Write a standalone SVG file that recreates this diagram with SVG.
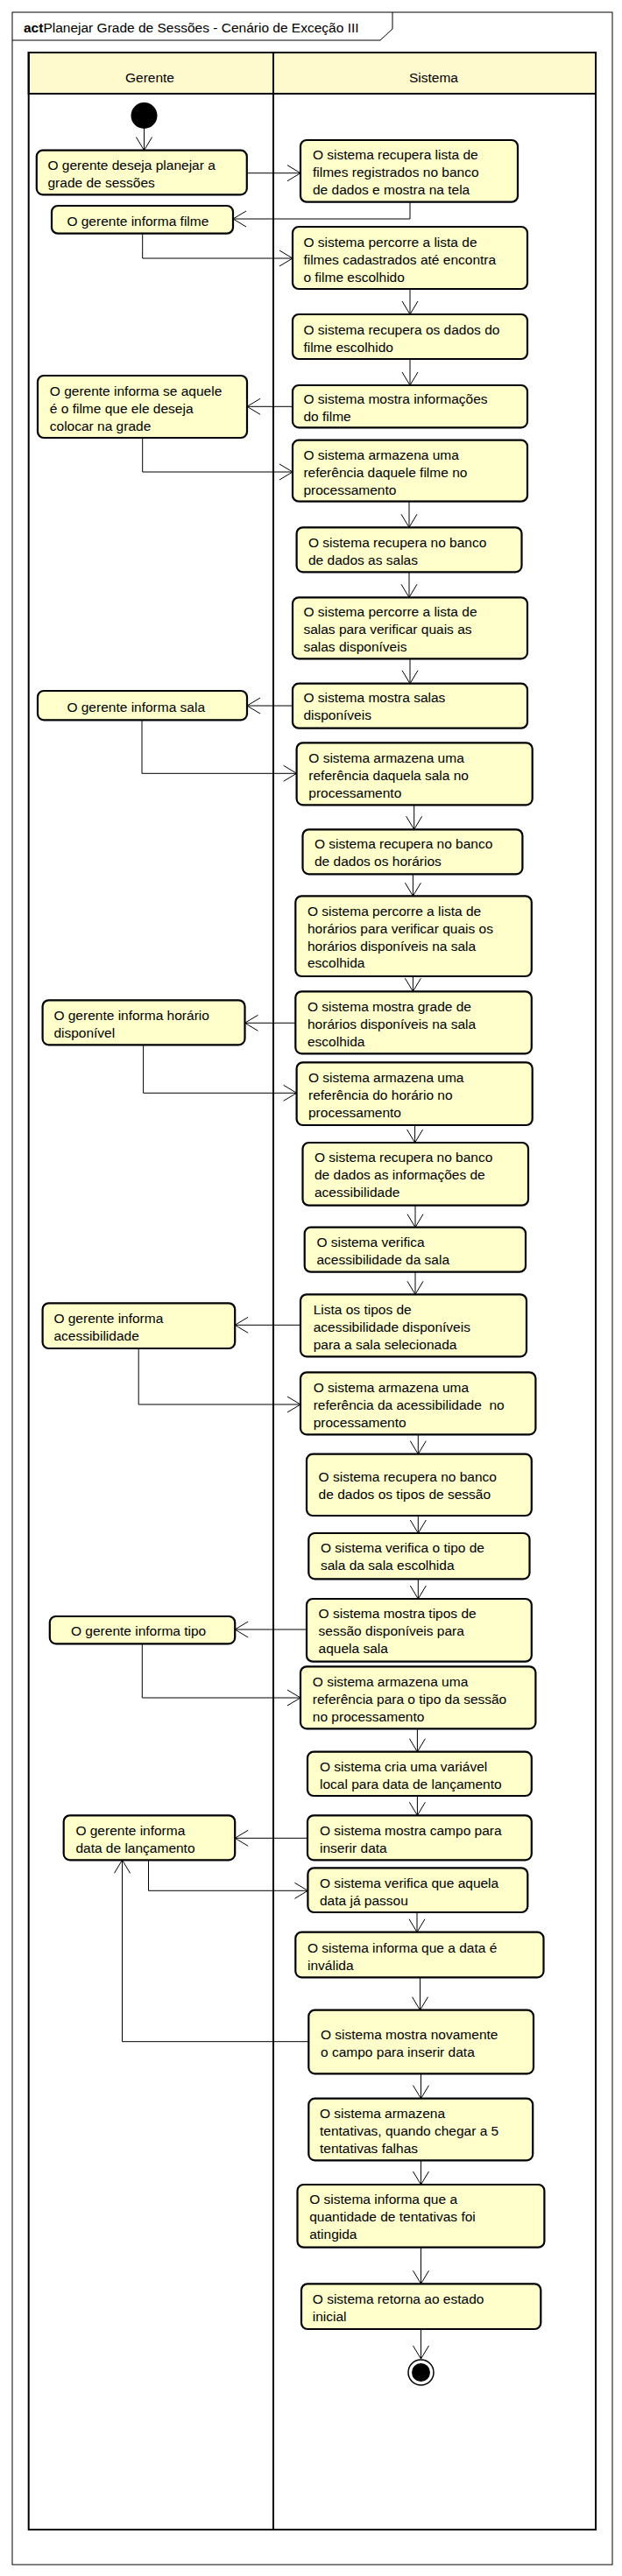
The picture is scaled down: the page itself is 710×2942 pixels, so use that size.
<svg xmlns="http://www.w3.org/2000/svg" width="710" height="2942" viewBox="0 0 710 2942">
<style>
text{font-family:"Liberation Sans",Arial,sans-serif;font-size:15.5px;fill:#000}
.n rect{fill:#FFFFCC;stroke:#000;stroke-width:2.2}
.lane{fill:none;stroke:#000;stroke-width:2}
.hdr{fill:#FFFACD;stroke:#000;stroke-width:2}
#connectors path{fill:none;stroke:#000;stroke-width:1;marker-end:url(#arr)}
</style>
<defs>
<marker id="arr" markerUnits="userSpaceOnUse" markerWidth="18" markerHeight="20" refX="15" refY="9" orient="auto" overflow="visible">
<path d="M0,0 L15,9 L0,18" fill="none" stroke="#000" stroke-width="1"/>
</marker>
</defs>
<rect x="0" y="0" width="710" height="2942" fill="#fff"/>
<g id="frame">
<rect x="14" y="14" width="685" height="2915" fill="none" stroke="#000" stroke-width="1"/>
<path d="M14,46 L434,46 L448,33 L448,14" fill="none" stroke="#000" stroke-width="1"/>
<text x="27" y="37"><tspan font-weight="bold">act</tspan>Planejar Grade de Sessões - Cenário de Exceção III</text>
</g>
<g id="lanes">
<rect class="hdr" x="32.7" y="60" width="647.3" height="47"/>
<rect class="lane" x="32.7" y="60" width="647.3" height="2829"/>
<line x1="312" y1="60" x2="312" y2="2889" stroke="#000" stroke-width="2"/>
<text x="171" y="94" text-anchor="middle">Gerente</text>
<text x="495" y="94" text-anchor="middle">Sistema</text>
</g>
<g id="start"><circle cx="164.5" cy="132" r="15" fill="#000"/></g>
<g id="end"><circle cx="480.5" cy="2709.5" r="14.5" fill="#fff" stroke="#000" stroke-width="1.5"/><circle cx="480.5" cy="2709.5" r="10.5" fill="#000"/></g>

<g id="n1" class="n"><rect x="41.8" y="171.7" width="240" height="50.6" rx="7"/><text x="54.5" y="193.8">O gerente deseja planejar a</text><text x="54.5" y="213.8">grade de sessões</text></g>
<g id="n2" class="n"><rect x="343" y="160" width="248" height="70.7" rx="7"/><text x="357" y="182">O sistema recupera lista de</text><text x="357" y="202">filmes registrados no banco</text><text x="357" y="222">de dados e mostra na tela</text></g>
<g id="n3" class="n"><rect x="59" y="235" width="207" height="31.7" rx="7"/><text x="76.4" y="257.5">O gerente informa filme</text></g>
<g id="n4" class="n"><rect x="334" y="259" width="268" height="71" rx="7"/><text x="346.4" y="281.5">O sistema percorre a lista de</text><text x="346.4" y="301.5">filmes cadastrados até encontra</text><text x="346.4" y="321.5">o filme escolhido</text></g>
<g id="n5" class="n"><rect x="334" y="359" width="268" height="51" rx="7"/><text x="346.4" y="381.5">O sistema recupera os dados do</text><text x="346.4" y="401.5">filme escolhido</text></g>
<g id="n6" class="n"><rect x="334" y="440" width="268" height="48.3" rx="7"/><text x="346.4" y="460.5">O sistema mostra informações</text><text x="346.4" y="480.5">do filme</text></g>
<g id="n7" class="n"><rect x="43" y="429" width="239" height="71" rx="7"/><text x="56.8" y="451.5">O gerente informa se aquele</text><text x="56.8" y="471.5">é o filme que ele deseja</text><text x="56.8" y="491.5">colocar na grade</text></g>
<g id="n8" class="n"><rect x="334" y="502.7" width="268" height="70" rx="7"/><text x="346.4" y="524.8">O sistema armazena uma</text><text x="346.4" y="544.8">referência daquele filme no</text><text x="346.4" y="564.8">processamento</text></g>
<g id="n9" class="n"><rect x="338.6" y="602.3" width="256.9" height="51" rx="7"/><text x="352" y="624.5">O sistema recupera no banco</text><text x="352" y="644.5">de dados as salas</text></g>
<g id="n10" class="n"><rect x="334" y="682.3" width="268" height="70" rx="7"/><text x="346.4" y="703.5">O sistema percorre a lista de</text><text x="346.4" y="723.5">salas para verificar quais as</text><text x="346.4" y="743.5">salas disponíveis</text></g>
<g id="n11" class="n"><rect x="334" y="780.7" width="268" height="51" rx="7"/><text x="346.4" y="802">O sistema mostra salas</text><text x="346.4" y="822">disponíveis</text></g>
<g id="n12" class="n"><rect x="43" y="789" width="239" height="33.3" rx="7"/><text x="76.4" y="812.8">O gerente informa sala</text></g>
<g id="n13" class="n"><rect x="338.6" y="848.3" width="269.1" height="71" rx="7"/><text x="352.3" y="870.5">O sistema armazena uma</text><text x="352.3" y="890.5">referência daquela sala no</text><text x="352.3" y="910.5">processamento</text></g>
<g id="n14" class="n"><rect x="345.5" y="947.3" width="250.9" height="51" rx="7"/><text x="359" y="969">O sistema recupera no banco</text><text x="359" y="989">de dados os horários</text></g>
<g id="n15" class="n"><rect x="337.3" y="1023.3" width="269.5" height="91.7" rx="7"/><text x="351" y="1045.5">O sistema percorre a lista de</text><text x="351" y="1065.5">horários para verificar quais os</text><text x="351" y="1085.5">horários disponíveis na sala</text><text x="351" y="1105">escolhida</text></g>
<g id="n16" class="n"><rect x="337.3" y="1132.3" width="269.5" height="71" rx="7"/><text x="351" y="1154.8">O sistema mostra grade de</text><text x="351" y="1174.8">horários disponíveis na sala</text><text x="351" y="1194.8">escolhida</text></g>
<g id="n17" class="n"><rect x="48.6" y="1142.3" width="230.9" height="51" rx="7"/><text x="61.4" y="1164.5">O gerente informa horário</text><text x="61.4" y="1184.5">disponível</text></g>
<g id="n18" class="n"><rect x="338.6" y="1213.3" width="269.1" height="71.7" rx="7"/><text x="352" y="1235.5">O sistema armazena uma</text><text x="352" y="1255.5">referência do horário no</text><text x="352" y="1275.5">processamento</text></g>
<g id="n19" class="n"><rect x="345.5" y="1305" width="257.5" height="71.7" rx="7"/><text x="359" y="1327">O sistema recupera no banco</text><text x="359" y="1347">de dados as informações de</text><text x="359" y="1367">acessibilidade</text></g>
<g id="n20" class="n"><rect x="347.7" y="1401.7" width="252.3" height="51" rx="7"/><text x="361.4" y="1423.8">O sistema verifica</text><text x="361.4" y="1443.8">acessibilidade da sala</text></g>
<g id="n21" class="n"><rect x="343" y="1478.3" width="258" height="71" rx="7"/><text x="357.7" y="1500.5">Lista os tipos de</text><text x="357.7" y="1520.5">acessibilidade disponíveis</text><text x="357.7" y="1540.5">para a sala selecionada</text></g>
<g id="n22" class="n"><rect x="48.6" y="1488.3" width="219.6" height="51.7" rx="7"/><text x="61.4" y="1510.5">O gerente informa</text><text x="61.4" y="1530.5">acessibilidade</text></g>
<g id="n23" class="n"><rect x="343" y="1567.3" width="268.4" height="71" rx="7"/><text x="357.7" y="1589.5">O sistema armazena uma</text><text x="357.7" y="1609.5" xml:space="preserve">referência da acessibilidade  no</text><text x="357.7" y="1629.5">processamento</text></g>
<g id="n24" class="n"><rect x="350" y="1660.7" width="256.8" height="70.3" rx="7"/><text x="363.6" y="1692.2">O sistema recupera no banco</text><text x="363.6" y="1712.2">de dados os tipos de sessão</text></g>
<g id="n25" class="n"><rect x="352.3" y="1751" width="252.2" height="52.3" rx="7"/><text x="366" y="1773.2">O sistema verifica o tipo de</text><text x="366" y="1793.2">sala da sala escolhida</text></g>
<g id="n26" class="n"><rect x="350" y="1826" width="256.8" height="71.7" rx="7"/><text x="363.6" y="1848.2">O sistema mostra tipos de</text><text x="363.6" y="1868.2">sessão disponíveis para</text><text x="363.6" y="1888.2">aquela sala</text></g>
<g id="n27" class="n"><rect x="56.8" y="1846" width="211.4" height="31.3" rx="7"/><text x="81" y="1867.5">O gerente informa tipo</text></g>
<g id="n28" class="n"><rect x="343" y="1903.3" width="268.4" height="71" rx="7"/><text x="356.8" y="1925.5">O sistema armazena uma</text><text x="356.8" y="1945.5">referência para o tipo da sessão</text><text x="356.8" y="1965.5">no processamento</text></g>
<g id="n29" class="n"><rect x="351" y="2000.7" width="255.8" height="50.3" rx="7"/><text x="365" y="2022.8">O sistema cria uma variável</text><text x="365" y="2042.8">local para data de lançamento</text></g>
<g id="n30" class="n"><rect x="351" y="2073.3" width="255.8" height="51" rx="7"/><text x="365" y="2095.5">O sistema mostra campo para</text><text x="365" y="2115.5">inserir data</text></g>
<g id="n31" class="n"><rect x="72.7" y="2073.3" width="195.5" height="51" rx="7"/><text x="86.4" y="2095.5">O gerente informa</text><text x="86.4" y="2115.5">data de lançamento</text></g>
<g id="n32" class="n"><rect x="351.4" y="2133.3" width="250.9" height="50.7" rx="7"/><text x="365" y="2155.5">O sistema verifica que aquela</text><text x="365" y="2175.5">data já passou</text></g>
<g id="n33" class="n"><rect x="337.3" y="2206.7" width="283.2" height="51.6" rx="7"/><text x="351" y="2229.5">O sistema informa que a data é</text><text x="351" y="2249.5">inválida</text></g>
<g id="n34" class="n"><rect x="352.3" y="2295.7" width="256.7" height="72.6" rx="7"/><text x="366" y="2328.8">O sistema mostra novamente</text><text x="366" y="2348.8">o campo para inserir data</text></g>
<g id="n35" class="n"><rect x="352.3" y="2396.7" width="255.9" height="70.6" rx="7"/><text x="365" y="2418.8">O sistema armazena</text><text x="365" y="2438.8">tentativas, quando chegar a 5</text><text x="365" y="2458.8">tentativas falhas</text></g>
<g id="n36" class="n"><rect x="339.5" y="2495" width="281.9" height="71.7" rx="7"/><text x="353.2" y="2517.2">O sistema informa que a</text><text x="353.2" y="2537.2">quantidade de tentativas foi</text><text x="353.2" y="2557.2">atingida</text></g>
<g id="n37" class="n"><rect x="344" y="2608.3" width="273.3" height="51.7" rx="7"/><text x="356.8" y="2630.5">O sistema retorna ao estado</text><text x="356.8" y="2650.5">inicial</text></g>

<g id="connectors">
<path d="M164.5,147 L164.5,171.7"/>
<path d="M281.8,197.7 L343,197.7"/>
<path d="M468,230.7 L468,250 L266,250"/>
<path d="M162.7,266.7 L162.7,295 L334,295"/>
<path d="M468,330 L468,359"/>
<path d="M468,410 L468,440"/>
<path d="M334,464.3 L282,464.3"/>
<path d="M162.7,500 L162.7,539 L334,539"/>
<path d="M467,572.7 L467,602.3"/>
<path d="M467,653.3 L467,682.3"/>
<path d="M468,752.3 L468,780.7"/>
<path d="M334,806 L282,806"/>
<path d="M162,822.3 L162,883.3 L338.6,883.3"/>
<path d="M472.7,919.3 L472.7,947.3"/>
<path d="M471.4,998.3 L471.4,1023.3"/>
<path d="M471.4,1115 L471.4,1132.3"/>
<path d="M337.3,1168.3 L279.5,1168.3"/>
<path d="M163.6,1193.3 L163.6,1248.3 L338.6,1248.3"/>
<path d="M473.6,1285 L473.6,1305"/>
<path d="M474,1376.7 L474,1401.7"/>
<path d="M474,1452.7 L474,1478.3"/>
<path d="M343,1513.3 L268.2,1513.3"/>
<path d="M158.2,1540 L158.2,1604 L343,1604"/>
<path d="M477.3,1638.3 L477.3,1660.7"/>
<path d="M477.3,1731 L477.3,1751"/>
<path d="M477.3,1803.3 L477.3,1826"/>
<path d="M350,1861 L268.2,1861"/>
<path d="M162.3,1877.3 L162.3,1939 L343,1939"/>
<path d="M476.4,1974.3 L476.4,2000.7"/>
<path d="M476.4,2051 L476.4,2073.3"/>
<path d="M351,2099.3 L268.2,2099.3"/>
<path d="M169.5,2124.3 L169.5,2159.3 L351.4,2159.3"/>
<path d="M476,2184 L476,2206.7"/>
<path d="M479.5,2258.3 L479.5,2295.7"/>
<path d="M352.3,2331.7 L139.5,2331.7 L139.5,2124.3"/>
<path d="M480.5,2368.3 L480.5,2396.7"/>
<path d="M480.5,2467.3 L480.5,2495"/>
<path d="M480.5,2566.7 L480.5,2608.3"/>
<path d="M480.5,2660 L480.5,2694"/>
</g>
</svg>
